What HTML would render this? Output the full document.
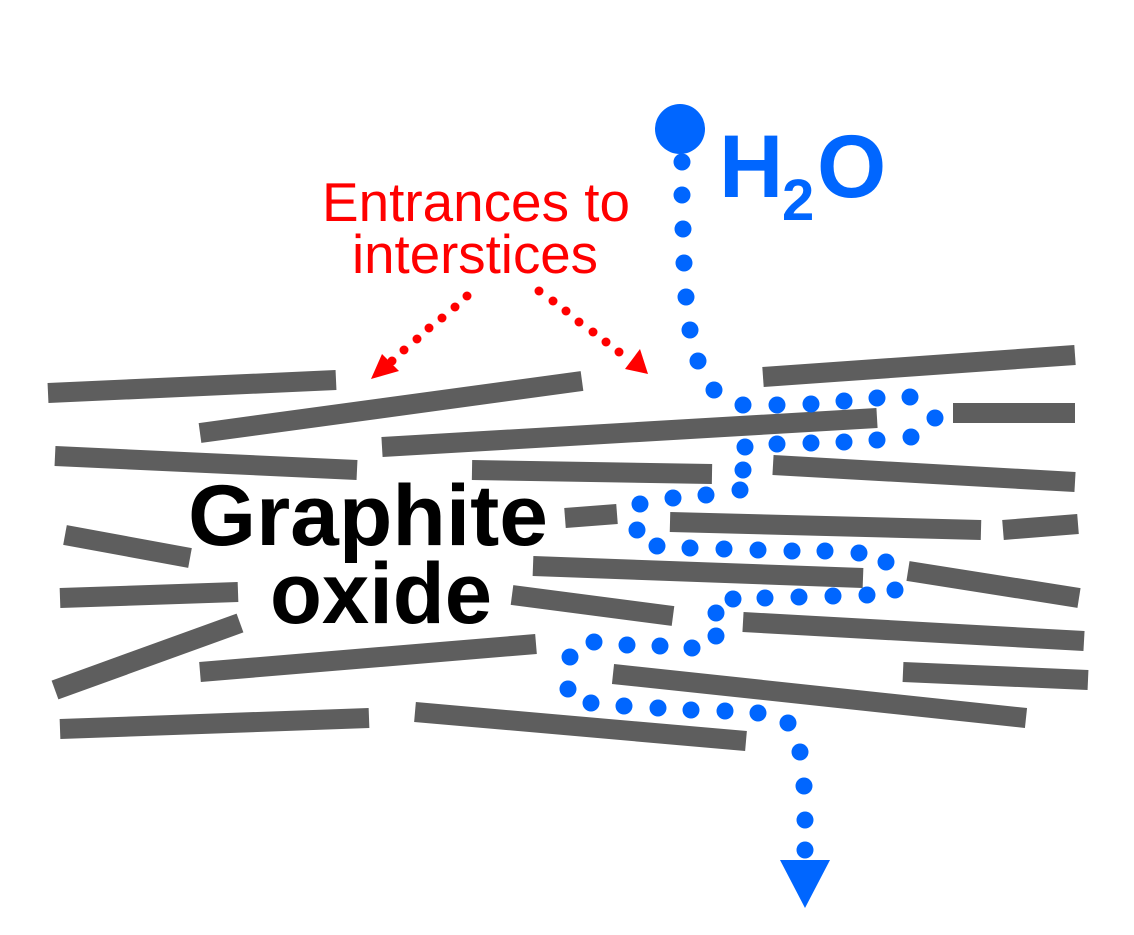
<!DOCTYPE html>
<html><head><meta charset="utf-8"><style>
html,body{margin:0;padding:0;background:#fff;}
svg{display:block;}
</style></head><body>
<svg width="1134" height="935" viewBox="0 0 1134 935" xmlns="http://www.w3.org/2000/svg">
<g stroke="#5e5e5e" stroke-width="20" stroke-linecap="butt">
<line x1="48" y1="393" x2="336" y2="380"/>
<line x1="200" y1="433" x2="582" y2="381"/>
<line x1="55" y1="456" x2="357" y2="470"/>
<line x1="382" y1="447" x2="877" y2="418"/>
<line x1="763" y1="377" x2="1075" y2="355"/>
<line x1="953" y1="413" x2="1075" y2="413"/>
<line x1="472" y1="470" x2="712" y2="474"/>
<line x1="773" y1="465" x2="1075" y2="482"/>
<line x1="565" y1="518" x2="617" y2="514"/>
<line x1="670" y1="522" x2="981" y2="530"/>
<line x1="1003" y1="530" x2="1078" y2="524"/>
<line x1="65" y1="535" x2="190" y2="558"/>
<line x1="533" y1="566" x2="863" y2="578"/>
<line x1="908" y1="571" x2="1079" y2="598"/>
<line x1="60" y1="598" x2="238" y2="592"/>
<line x1="512" y1="595" x2="673" y2="616"/>
<line x1="743" y1="622" x2="1084" y2="641"/>
<line x1="55" y1="690" x2="240" y2="623"/>
<line x1="200" y1="672" x2="536" y2="644"/>
<line x1="613" y1="674" x2="1026" y2="718"/>
<line x1="903" y1="672" x2="1088" y2="680"/>
<line x1="60" y1="729" x2="369" y2="718"/>
<line x1="415" y1="712" x2="746" y2="741"/>
</g>
<g fill="#ff0000">
<circle cx="467" cy="296" r="4.5"/><circle cx="455" cy="307" r="4.5"/><circle cx="442" cy="318" r="4.5"/><circle cx="429" cy="328" r="4.5"/><circle cx="417" cy="339" r="4.5"/><circle cx="404" cy="350" r="4.5"/><circle cx="392" cy="361" r="4.5"/>
<polygon points="371,379 382,354 399,371"/>
<circle cx="539" cy="291" r="4.5"/><circle cx="553" cy="301" r="4.5"/><circle cx="566" cy="311" r="4.5"/><circle cx="579" cy="322" r="4.5"/><circle cx="593" cy="332" r="4.5"/><circle cx="606" cy="342" r="4.5"/><circle cx="619" cy="352" r="4.5"/>
<polygon points="648,374 625,369 640,349"/>
</g>
<g fill="#0066ff">
<circle cx="680" cy="129" r="25"/>
<circle cx="682" cy="162" r="8.5"/><circle cx="682" cy="195" r="8.5"/><circle cx="683" cy="229" r="8.5"/><circle cx="684" cy="263" r="8.5"/><circle cx="686" cy="297" r="8.5"/><circle cx="690" cy="330" r="8.5"/><circle cx="698" cy="361" r="8.5"/><circle cx="714" cy="390" r="8.5"/>
<circle cx="743" cy="405" r="8.5"/><circle cx="777" cy="405" r="8.5"/><circle cx="811" cy="404" r="8.5"/><circle cx="844" cy="401" r="8.5"/><circle cx="877" cy="398" r="8.5"/><circle cx="910" cy="397" r="8.5"/><circle cx="935" cy="418" r="8.5"/>
<circle cx="911" cy="437" r="8.5"/><circle cx="877" cy="440" r="8.5"/><circle cx="844" cy="442" r="8.5"/><circle cx="811" cy="443" r="8.5"/><circle cx="777" cy="444" r="8.5"/><circle cx="745" cy="447" r="8.5"/><circle cx="743" cy="470" r="8.5"/><circle cx="740" cy="490" r="8.5"/>
<circle cx="706" cy="495" r="8.5"/><circle cx="673" cy="498" r="8.5"/><circle cx="640" cy="504" r="8.5"/><circle cx="637" cy="530" r="8.5"/><circle cx="657" cy="546" r="8.5"/><circle cx="690" cy="548" r="8.5"/><circle cx="724" cy="549" r="8.5"/><circle cx="758" cy="550" r="8.5"/><circle cx="792" cy="551" r="8.5"/><circle cx="825" cy="551" r="8.5"/><circle cx="859" cy="553" r="8.5"/><circle cx="886" cy="562" r="8.5"/>
<circle cx="895" cy="590" r="8.5"/><circle cx="867" cy="595" r="8.5"/><circle cx="833" cy="596" r="8.5"/><circle cx="799" cy="597" r="8.5"/><circle cx="765" cy="598" r="8.5"/><circle cx="733" cy="599" r="8.5"/><circle cx="716" cy="613" r="8.5"/><circle cx="716" cy="636" r="8.5"/>
<circle cx="692" cy="648" r="8.5"/><circle cx="660" cy="646" r="8.5"/><circle cx="627" cy="645" r="8.5"/><circle cx="594" cy="642" r="8.5"/><circle cx="570" cy="657" r="8.5"/><circle cx="568" cy="689" r="8.5"/>
<circle cx="591" cy="703" r="8.5"/><circle cx="624" cy="706" r="8.5"/><circle cx="658" cy="708" r="8.5"/><circle cx="691" cy="710" r="8.5"/><circle cx="725" cy="711" r="8.5"/><circle cx="758" cy="713" r="8.5"/><circle cx="788" cy="723" r="8.5"/>
<circle cx="800" cy="752" r="8.5"/><circle cx="804" cy="786" r="8.5"/><circle cx="805" cy="820" r="8.5"/><circle cx="805" cy="850" r="8.5"/>
<polygon points="780,860 830,860 805,908"/>
</g>
<g font-family="Liberation Sans, sans-serif">
<text x="476" y="221" font-size="55" fill="#ff0000" text-anchor="middle" textLength="308" lengthAdjust="spacingAndGlyphs">Entrances to</text>
<text x="475" y="273" font-size="55" fill="#ff0000" text-anchor="middle" textLength="246" lengthAdjust="spacingAndGlyphs">interstices</text>
<text x="368" y="545" font-size="86" font-weight="bold" fill="#000" text-anchor="middle" textLength="360" lengthAdjust="spacingAndGlyphs">Graphite</text>
<text x="381" y="623" font-size="86" font-weight="bold" fill="#000" text-anchor="middle" textLength="222" lengthAdjust="spacingAndGlyphs">oxide</text>
<text x="719" y="197" font-size="89" font-weight="bold" fill="#0066ff">H</text>
<text x="782" y="220" font-size="58" font-weight="bold" fill="#0066ff">2</text>
<text x="817" y="197" font-size="89" font-weight="bold" fill="#0066ff">O</text>
</g>
</svg>
</body></html>
